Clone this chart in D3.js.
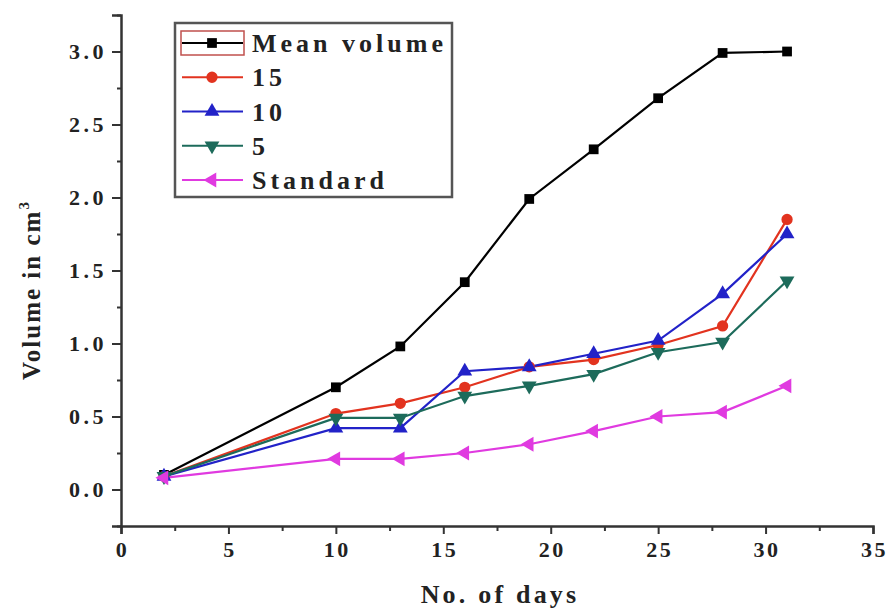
<!DOCTYPE html>
<html>
<head>
<meta charset="utf-8">
<script src="https://cdn.jsdelivr.net/npm/d3@7"></script>
<style>
  body { margin: 0; background: #fff; }
  svg { display: block; }
  text { font-family: "Liberation Serif", "DejaVu Serif", serif; font-weight: bold; fill: #222; }
</style>
</head>
<body>
<svg width="890" height="610"></svg>
<script>
// days on x
const days = [2, 10, 13, 16, 19, 22, 25, 28, 31];

// volumes
const meanVolume = [0.10, 0.70, 0.98, 1.42, 1.99, 2.33, 2.68, 2.99, 3.00];
const vol15 = [0.09, 0.52, 0.59, 0.70, 0.84, 0.89, 0.99, 1.12, 1.85];
const vol10 = [0.09, 0.42, 0.42, 0.81, 0.84, 0.93, 1.02, 1.34, 1.75];
const vol5 = [0.09, 0.49, 0.49, 0.64, 0.71, 0.79, 0.94, 1.01, 1.43];
const standard = [0.08, 0.21, 0.21, 0.25, 0.31, 0.40, 0.50, 0.53, 0.71];

const seriesNames = ['Mean volume', '15', '10', '5', 'Standard'];
const seriesValues = [meanVolume, vol15, vol10, vol5, standard];
const seriesColors = ['#000000', '#e2331f', '#2222c8', '#1d6b5b', '#e03ae0'];

const xTicks = [0, 5, 10, 15, 20, 25, 30, 35];
const yTicks = [0.0, 0.5, 1.0, 1.5, 2.0, 2.5, 3.0];

const svg = d3.select('svg');

const x = d3.scaleLinear().domain([0, 35]).range([121, 873]);
const y = d3.scaleLinear().domain([-0.25, 3.25]).range([526, 15]);

// marker shapes
const sq = d3.symbol().type(d3.symbolSquare).size(95);
const circ = d3.symbol().type(d3.symbolCircle).size(100);
const tri = d3.symbol().type(d3.symbolTriangle).size(95);
const markerPath = [sq(), circ(), tri(), tri(), tri()];
const markerRot = [0, 0, 0, 180, -90];

// axes
const axisColor = '#333';

const xAxis = svg.append('g')
  .attr('transform', `translate(0,${y(-0.25)})`)
  .call(d3.axisBottom(x).tickValues(xTicks).tickFormat(d3.format('d')).tickSize(8).tickPadding(7));
svg.append('g')
  .attr('transform', `translate(0,${y(-0.25)})`)
  .call(d3.axisBottom(x).tickValues(xTicks.slice(0, -1).map(d => d + 2.5)).tickFormat('').tickSize(5))
  .select('.domain').remove();

const yAxis = svg.append('g')
  .attr('transform', `translate(${x(0)},0)`)
  .call(d3.axisLeft(y).tickValues(yTicks).tickFormat(d3.format('.1f')).tickSize(9).tickPadding(5));
svg.append('g')
  .attr('transform', `translate(${x(0)},0)`)
  .call(d3.axisLeft(y).tickValues([-0.25, 0.25, 0.75, 1.25, 1.75, 2.25, 2.75, 3.25]).tickFormat('').tickSize(4))
  .select('.domain').remove();

svg.selectAll('.domain').attr('stroke', axisColor).attr('stroke-width', 2.5);
svg.selectAll('.tick line').attr('stroke', axisColor).attr('stroke-width', 2);
xAxis.selectAll('.tick text').style('font-size', '22px').style('letter-spacing', '2.5px').attr('dx', 1).attr('fill', '#333');
yAxis.selectAll('.tick text').style('font-size', '22px').style('letter-spacing', '3.5px').attr('fill', '#333');

// axis titles
svg.append('text')
  .attr('x', 500).attr('y', 603)
  .attr('text-anchor', 'middle')
  .style('font-size', '26px')
  .style('letter-spacing', '3.2px')
  .text('No. of days');

const yTitle = svg.append('text')
  .attr('transform', 'translate(40,290) rotate(-90)')
  .attr('text-anchor', 'middle')
  .style('font-size', '25px')
  .style('letter-spacing', '2px');
yTitle.append('tspan').text('Volume in cm');
yTitle.append('tspan').attr('dy', -11).style('font-size', '15px').text('3');

// lines and markers
const line = d3.line().x((d, i) => x(days[i])).y(d => y(d));

seriesValues.forEach((vals, s) => {
  svg.append('path')
    .datum(vals)
    .attr('fill', 'none')
    .attr('stroke', seriesColors[s])
    .attr('stroke-width', 2.2)
    .attr('d', line);
});

seriesValues.forEach((vals, s) => {
  svg.append('g').selectAll('path')
    .data(vals)
    .enter()
    .append('path')
    .attr('d', markerPath[s])
    .attr('transform', (d, i) => `translate(${x(days[i])},${y(d)}) rotate(${markerRot[s]})`)
    .attr('fill', seriesColors[s]);
});

// legend
const legend = svg.append('g').attr('transform', 'translate(175,23)');
legend.append('rect')
  .attr('width', 277).attr('height', 174)
  .attr('fill', '#fff')
  .attr('stroke', '#555')
  .attr('stroke-width', 2.5);

const rowY = d3.scalePoint().domain(seriesNames).range([20, 157]);

// highlight box around first sample
legend.append('rect')
  .attr('x', 6).attr('y', rowY(seriesNames[0]) - 12)
  .attr('width', 63).attr('height', 24)
  .attr('fill', 'none')
  .attr('stroke', '#c0504d')
  .attr('stroke-width', 1.5);

const rows = legend.selectAll('g.row')
  .data(seriesNames)
  .enter()
  .append('g')
  .attr('class', 'row')
  .attr('transform', d => `translate(0,${rowY(d)})`);

rows.append('line')
  .attr('x1', 7).attr('x2', 68)
  .attr('stroke', (d, i) => seriesColors[i])
  .attr('stroke-width', 2.2);

rows.append('path')
  .attr('d', (d, i) => markerPath[i])
  .attr('transform', (d, i) => `translate(37,0) rotate(${markerRot[i]})`)
  .attr('fill', (d, i) => seriesColors[i]);

rows.append('text')
  .attr('x', 77).attr('y', 9)
  .style('font-size', '26px')
  .style('letter-spacing', '4px')
  .text(d => d);
</script>
</body>
</html>
